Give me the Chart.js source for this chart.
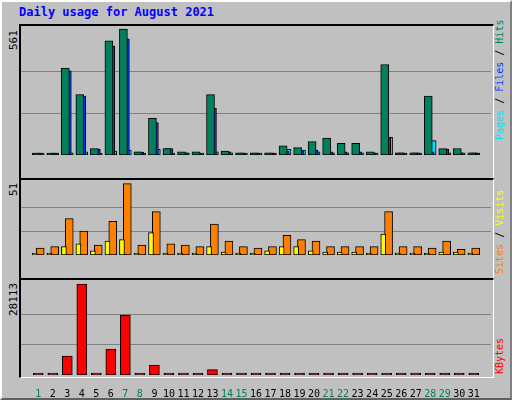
<!DOCTYPE html>
<html><head><meta charset="utf-8">
<script src="https://cdn.jsdelivr.net/npm/chart.js@4/dist/chart.umd.min.js"></script>
<style>
html,body{margin:0;padding:0;background:#C0C0C0;}
#frame{position:absolute;left:0;top:0;width:508px;height:396px;border-top:2px solid #fff;border-left:2px solid #fff;border-right:2px solid #808080;border-bottom:2px solid #606060;background:#C0C0C0;}
.panel{position:absolute;border-top:2px solid #000;border-left:2px solid #000;border-right:1px solid #fff;border-bottom:1px solid #fff;}
canvas{position:absolute;}
.rot{position:absolute;transform-origin:0 0;transform:rotate(-90deg);font-family:"DejaVu Sans Mono",monospace;font-size:11px;white-space:nowrap;}
.rr{font-size:10px;}
#title{position:absolute;left:19px;top:5px;font:bold 12px "DejaVu Sans Mono",monospace;color:#0000FF;}
</style></head><body>
<div id="frame"></div>
<div id="title">Daily usage for August 2021</div>
<div class="panel" style="left:19px;top:24px;width:472px;height:153px"></div>
<div class="panel" style="left:19px;top:178px;width:472px;height:99px"></div>
<div class="panel" style="left:19px;top:278px;width:472px;height:97px"></div>
<div class="rot" style="left:7px;top:50px">561</div>
<div class="rot" style="left:7px;top:196px">51</div>
<div class="rot" style="left:7px;top:316px">28113</div>
<div class="rot rr" style="left:494px;top:140px"><span style="color:#00E0FF">Pages</span> / <span style="color:#0040FF">Files</span> / <span style="color:#00805C">Hits</span></div>
<div class="rot rr" style="left:494px;top:274px"><span style="color:#FF8000">Sites</span> / <span style="color:#FFFF00">Visits</span></div>
<div class="rot rr" style="left:494px;top:374px"><span style="color:#FF0000">KBytes</span></div>
<canvas id="c1" style="left:21px;top:26px;width:470px;height:151px"></canvas>
<canvas id="c2" style="left:21px;top:180px;width:470px;height:97px"></canvas>
<canvas id="c3" style="left:21px;top:280px;width:470px;height:117px"></canvas>
<script>
const days=[1,2,3,4,5,6,7,8,9,10,11,12,13,14,15,16,17,18,19,20,21,22,23,24,25,26,27,28,29,30,31];
const weekend=[1,7,8,14,15,21,22,28,29];
const hits=[9,9,387,269,29,509,561,14,163,29,14,14,269,18,10,10,10,41,33,60,75,52,52,14,403,10,10,262,29,29,10];
const files=[9,6,375,262,25,486,517,13,144,29,10,9,208,14,9,9,6,18,18,22,14,14,14,10,79,10,10,14,25,10,10];
const pages=[2,2,10,14,3,18,22,3,25,3,10,3,14,10,2,2,3,25,22,14,10,10,10,3,79,3,3,64,10,10,3];
const visits=[5,6,26,17,7,24,51,7,31,8,7,6,22,10,6,5,6,14,11,10,6,6,6,6,31,6,6,5,10,4,5];
const sites=[0,1,6,8,3,10,11,1,16,1,1,1,6,2,1,0,3,6,6,3,2,2,2,0,15,0,0,1,2,2,0];
const kbytes=[120,120,5870,28113,120,8032,18536,120,3089,120,120,120,1648,120,120,120,120,600,120,120,120,120,120,120,120,120,120,120,120,120,120];
const maxes={hits:561,visits:51,kbytes:28113};

function ds(vals,off,color,w){return {data:vals.map((v,i)=>({x:days[i]+off,y:v})),backgroundColor:color,borderColor:'#000',borderWidth:1,barThickness:w,borderSkipped:false,minBarLength:2,grouped:false};}
function make(id,sets,max,showX){
  const axisMax=max*(showX?95/91:(id==='c1'?151/147.4:97/92.4));
  new Chart(document.getElementById(id),{type:'bar',data:{datasets:sets},
   options:{responsive:false,animation:false,devicePixelRatio:1,layout:{padding:0},
    plugins:{legend:{display:false},tooltip:{enabled:false}},
    scales:{
     x:{type:'linear',min:0.4,max:31.7333,display:showX,grid:{display:false},border:{display:false},
        afterBuildTicks:a=>{a.ticks=days.map(d=>({value:d+0.067}));},
        afterFit:a=>{a.height=22;},
        ticks:{autoSkip:false,maxRotation:0,padding:5,font:{family:'DejaVu Sans Mono',size:10},
          callback:(v)=>String(Math.round(v)),
          color:c=>weekend.includes(Math.round(c.tick.value))?'#00805C':'#000'}},
     y:{min:0,max:axisMax,border:{display:false},afterBuildTicks:a=>{a.ticks=[{value:max/3},{value:2*max/3}];},
        afterFit:a=>{a.width=0;},ticks:{display:false},grid:{color:'#808080',lineWidth:1,drawTicks:false}}}}});
}
const c1=document.getElementById('c1');c1.width=470;c1.height=151;
const c2=document.getElementById('c2');c2.width=470;c2.height=97;
const c3=document.getElementById('c3');c3.width=470;c3.height=117;
make('c1',[ds(hits,-0.067,'#00805C',8),ds(files,0.067,'#0040FF',8),ds(pages,0.2,'#00E0FF',8)],maxes.hits,false);
make('c2',[ds(sites,-0.167,'#FFFF00',5),ds(visits,0.2,'#FF8000',8)],maxes.visits,false);
make('c3',[ds(kbytes,0.067,'#FF0000',10)],maxes.kbytes,true);
</script></body></html>
